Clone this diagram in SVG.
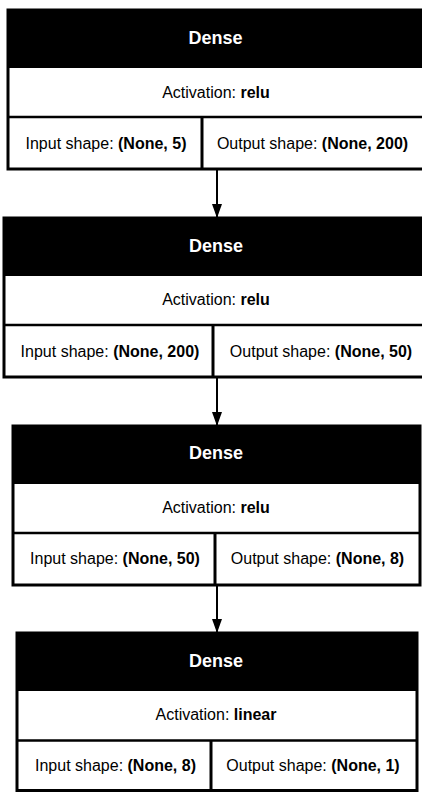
<svg xmlns="http://www.w3.org/2000/svg" width="422" height="792" viewBox="0 0 422 792">
<defs>
<style>
.frame{fill:#fff;stroke:#000;stroke-width:3}
.head{fill:#000}
.sep{stroke:#000;stroke-width:2.5}
.div{stroke:#000;stroke-width:3}
.title{font-family:"Liberation Sans",Arial,sans-serif;font-size:18px;font-weight:bold;fill:#fff;text-anchor:middle}
.lbl{font-family:"Liberation Sans",Arial,sans-serif;font-size:16px;fill:#000;text-anchor:middle}
.b{font-weight:bold}
.edge{stroke:#000;stroke-width:2;fill:none}
</style>
<marker id="arrow" viewBox="0 0 14 10" refX="14" refY="5" markerWidth="14" markerHeight="10" markerUnits="userSpaceOnUse" orient="auto">
<path d="M0,0 L14,5 L0,10 z" fill="#000"/>
</marker>
</defs>
<rect width="422" height="792" fill="#fff"/>
<g id="connectors">
<line class="edge" x1="217" y1="170" x2="217" y2="218" marker-end="url(#arrow)"/>
<line class="edge" x1="217" y1="378" x2="217" y2="426" marker-end="url(#arrow)"/>
<line class="edge" x1="217" y1="586" x2="217" y2="633" marker-end="url(#arrow)"/>
</g>
<g id="dense_1">
<rect class="frame" x="8" y="10" width="416" height="159"/>
<rect class="head" x="8" y="10" width="416" height="58"/>
<line class="sep" x1="8" y1="117" x2="424" y2="117"/>
<line class="div" x1="202" y1="117" x2="202" y2="169"/>
<text class="title" x="215.5" y="43.5">Dense</text>
<text class="lbl" x="216" y="97.5">Activation: <tspan class="b">relu</tspan></text>
<text class="lbl" x="106" y="149">Input shape: <tspan class="b">(None, 5)</tspan></text>
<text class="lbl" x="312.5" y="149">Output shape: <tspan class="b">(None, 200)</tspan></text>
</g>
<g id="dense_2">
<rect class="frame" x="4" y="218" width="424" height="159"/>
<rect class="head" x="4" y="218" width="424" height="58"/>
<line class="sep" x1="4" y1="325" x2="428" y2="325"/>
<line class="div" x1="213" y1="325" x2="213" y2="377"/>
<text class="title" x="216" y="251.5">Dense</text>
<text class="lbl" x="216" y="305">Activation: <tspan class="b">relu</tspan></text>
<text class="lbl" x="110" y="356.5">Input shape: <tspan class="b">(None, 200)</tspan></text>
<text class="lbl" x="321" y="356.5">Output shape: <tspan class="b">(None, 50)</tspan></text>
</g>
<g id="dense_3">
<rect class="frame" x="13" y="426" width="407" height="159"/>
<rect class="head" x="13" y="426" width="407" height="58"/>
<line class="sep" x1="13" y1="533" x2="420" y2="533"/>
<line class="div" x1="215" y1="533" x2="215" y2="585"/>
<text class="title" x="216" y="459">Dense</text>
<text class="lbl" x="216" y="512.5">Activation: <tspan class="b">relu</tspan></text>
<text class="lbl" x="115" y="564">Input shape: <tspan class="b">(None, 50)</tspan></text>
<text class="lbl" x="317.5" y="564">Output shape: <tspan class="b">(None, 8)</tspan></text>
</g>
<g id="dense_4">
<rect class="frame" x="17" y="633" width="400" height="157.5"/>
<rect class="head" x="17" y="633" width="400" height="58"/>
<line class="sep" x1="17" y1="740.5" x2="417" y2="740.5"/>
<line class="div" x1="211" y1="740.5" x2="211" y2="790.5"/>
<text class="title" x="216" y="666.5">Dense</text>
<text class="lbl" x="216" y="720">Activation: <tspan class="b">linear</tspan></text>
<text class="lbl" x="115.5" y="771">Input shape: <tspan class="b">(None, 8)</tspan></text>
<text class="lbl" x="313" y="771">Output shape: <tspan class="b">(None, 1)</tspan></text>
</g>
</svg>
